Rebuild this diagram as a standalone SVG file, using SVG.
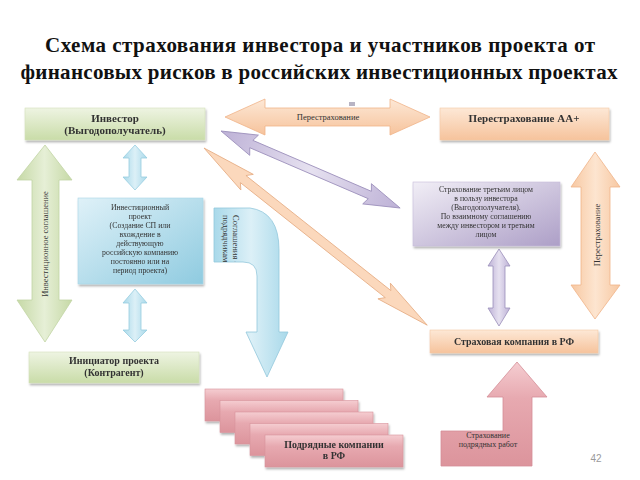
<svg xmlns="http://www.w3.org/2000/svg" width="640" height="480" viewBox="0 0 640 480">
<defs>
<linearGradient id="gGreen" x1="0" y1="0" x2="0" y2="1"><stop offset="0" stop-color="#eef4e2"/><stop offset="1" stop-color="#c9dca8"/></linearGradient>
<linearGradient id="gGreenH" x1="0" y1="0" x2="1" y2="0"><stop offset="0" stop-color="#c6d9a6"/><stop offset="0.5" stop-color="#e6efd6"/><stop offset="1" stop-color="#c6d9a6"/></linearGradient>
<linearGradient id="gOrange" x1="0" y1="0" x2="0" y2="1"><stop offset="0" stop-color="#fde8d6"/><stop offset="1" stop-color="#f6c39c"/></linearGradient>
<linearGradient id="gOrangeH" x1="0" y1="0" x2="1" y2="0"><stop offset="0" stop-color="#f7c8a2"/><stop offset="0.5" stop-color="#fde5d0"/><stop offset="1" stop-color="#f7c8a2"/></linearGradient>
<linearGradient id="gBlue" x1="0" y1="0" x2="1" y2="1"><stop offset="0" stop-color="#dff1f8"/><stop offset="1" stop-color="#8fcbe0"/></linearGradient>
<linearGradient id="gBlueH" x1="0" y1="0" x2="1" y2="0"><stop offset="0" stop-color="#a9d9ea"/><stop offset="0.5" stop-color="#dcf0f7"/><stop offset="1" stop-color="#a9d9ea"/></linearGradient>
<linearGradient id="gPurple" x1="0" y1="0" x2="1" y2="1"><stop offset="0" stop-color="#f1eef6"/><stop offset="1" stop-color="#ad9fc7"/></linearGradient>
<linearGradient id="gPurpleH" x1="0" y1="0" x2="1" y2="0"><stop offset="0" stop-color="#bdb1d6"/><stop offset="0.5" stop-color="#e6e1f0"/><stop offset="1" stop-color="#bdb1d6"/></linearGradient>
<linearGradient id="gPink" x1="0" y1="0" x2="0" y2="1"><stop offset="0" stop-color="#f5cdd1"/><stop offset="0.35" stop-color="#e7a9b0"/><stop offset="1" stop-color="#dc949c"/></linearGradient>
<filter id="sh" x="-10%" y="-10%" width="125%" height="140%"><feDropShadow dx="1" dy="2" stdDeviation="1.2" flood-color="#000" flood-opacity="0.3"/></filter>
<clipPath id="curveClip"><path d="M214,208 L250,208 Q279,212 279,250 L279,332 L288,332 L267,377 L246,332 L257,332 L257,276 Q257,262 243,262 L214,262 Z"/></clipPath>
</defs>
<style>
text{font-family:"Liberation Serif","DejaVu Serif",serif;fill:#333;text-anchor:middle}
.title{font-size:21px;font-weight:bold;fill:#111}
.lbl{font-size:11px;font-weight:bold}
.lbl2{font-size:10px;font-weight:bold}
.sm{font-size:8.5px}
.xs{font-size:7.8px}
.box{filter:url(#sh)}
.arr{stroke-width:0.8}
</style>
<rect width="640" height="480" fill="#fff"/>
<text class="title" x="320" y="52" textLength="550" lengthAdjust="spacing">Схема страхования инвестора и участников проекта от</text>
<text class="title" x="319" y="79" textLength="597" lengthAdjust="spacing">финансовых рисков в российских инвестиционных проектах</text>

<g id="connectors">
<g id="arrow-top-reinsurance">
<polygon class="arr" points="225,117 265,99 265,108 390,108 390,99 430,117 390,135 390,126 265,126 265,135" fill="url(#gOrange)" stroke="#f0b489"/>
<rect x="349" y="102" width="6" height="4" fill="#b8b4c4"/>
<text class="sm" x="328" y="120">Перестрахование</text>
</g>
<g id="arrow-diag-purple">
<polygon class="arr" transform="translate(221,131) rotate(23.27)" points="0,0 36,-11 33,-4 162,-4 159,-11 195,0 159,11 162,4 33,4 36,11" fill="url(#gPurpleH)" stroke="#9b8fba"/>
</g>
<g id="arrow-diag-orange">
<polygon class="arr" transform="translate(204,148) rotate(38.44)" points="0,0 55,-10 50,-4.5 235,-4.5 230,-10 285,0 230,10 235,4.5 50,4.5 55,10" fill="#fbd8bc" stroke="#e6ad84"/>
</g>
<g id="arrow-invest-agreement">
<polygon class="arr" points="45,145 72,180 59,180 59,300 72,300 45,342 17,300 32,300 32,180 17,180" fill="url(#gGreenH)" stroke="#c2d4a4"/>
<text class="sm" transform="translate(48,244) rotate(-90)">Инвестиционное соглашение</text>
</g>
<g id="arrow-right-reinsurance">
<polygon class="arr" points="595,152 620,187 610,187 610,285 620,285 595,319 571,285 581,285 581,187 571,187" fill="url(#gOrangeH)" stroke="#f0b489"/>
<text class="sm" transform="translate(600,235) rotate(-90)">Перестрахование</text>
</g>
<g id="arrow-third-party">
<polygon class="arr" points="499,249 510,266 505,266 505,308 510,308 499,326 488,308 493,308 493,266 488,266" fill="url(#gPurpleH)" stroke="#9b8fba"/>
</g>
<g id="arrow-invest-up">
<polygon class="arr" points="135,145 147,158 141,158 141,177 147,177 135,190 123,177 129,177 129,158 123,158" fill="url(#gBlueH)" stroke="#97cde0"/>
</g>
<g id="arrow-invest-down">
<polygon class="arr" points="135,289 147,303 141,303 141,330 147,330 135,342 123,330 129,330 129,303 123,303" fill="url(#gBlueH)" stroke="#97cde0"/>
</g>
<g id="arrow-contractor-agreements">
<path class="arr" d="M214,208 L250,208 Q279,212 279,250 L279,332 L288,332 L267,377 L246,332 L257,332 L257,276 Q257,262 243,262 L214,262 Z" fill="url(#gBlueH)" stroke="#93c8dc"/>
<g clip-path="url(#curveClip)">
<text class="sm" style="text-anchor:start" transform="translate(233,215) rotate(90)">Соглашения с</text>
<text class="sm" style="text-anchor:start" transform="translate(223,215) rotate(90)">подрядчиками</text>
</g>
</g>
<g id="arrow-contract-insurance">
<polygon class="arr" points="517,362 547,397 532,397 532,466 441,466 441,431 503,431 503,397 487,397" fill="url(#gPink)" stroke="#d48e97"/>
<text style="font-size:8px" x="488" y="438">Страхование</text>
<text style="font-size:8px" x="488" y="447">подрядных работ</text>
</g>
</g>

<g id="investor" class="box">
<rect x="25" y="108" width="180" height="32" fill="url(#gGreen)" stroke="#d3e2bb" stroke-width="0.6"/>
<text class="lbl" x="115" y="122">Инвестор</text>
<text class="lbl" x="115" y="134">(Выгодополучатель)</text>
</g>
<g id="reinsurance-aa" class="box">
<rect x="440" y="108" width="169" height="32" fill="url(#gOrange)" stroke="#f4c8a6" stroke-width="0.6"/>
<text class="lbl" x="524" y="122">Перестрахование  АА+</text>
</g>
<g id="investment-project" class="box">
<rect x="78" y="198" width="125" height="86" fill="url(#gBlue)" stroke="#a8d6e6" stroke-width="0.6"/>
<text class="xs" x="140" y="210">Инвестиционный</text>
<text class="xs" x="140" y="219">проект</text>
<text class="xs" x="140" y="228">(Создание СП или</text>
<text class="xs" x="140" y="237">вхождение в</text>
<text class="xs" x="140" y="246">действующую</text>
<text class="xs" x="140" y="255">российскую  компанию</text>
<text class="xs" x="140" y="264">постоянно или  на</text>
<text class="xs" x="140" y="273">период проекта)</text>
</g>
<g id="third-party-insurance" class="box">
<rect x="413" y="182" width="147" height="64" fill="url(#gPurple)" stroke="#c6bcd9" stroke-width="0.6"/>
<text class="xs" x="486" y="192">Страхование  третьим  лицом</text>
<text class="xs" x="486" y="201">в пользу инвестора</text>
<text class="xs" x="486" y="210">(Выгодополучателя).</text>
<text class="xs" x="486" y="219">По взаимному соглашению</text>
<text class="xs" x="486" y="228">между инвестором  и третьим</text>
<text class="xs" x="486" y="237">лицом</text>
</g>
<g id="insurance-company" class="box">
<rect x="430" y="330" width="168" height="23" fill="url(#gOrange)" stroke="#f4c8a6" stroke-width="0.6"/>
<text class="lbl2" x="514" y="345">Страховая компания в РФ</text>
</g>
<g id="initiator" class="box">
<rect x="29" y="352" width="170" height="31" fill="url(#gGreen)" stroke="#d3e2bb" stroke-width="0.6"/>
<text class="lbl2" x="114" y="364">Инициатор проекта</text>
<text class="lbl2" x="114" y="376">(Контрагент)</text>
</g>
<g id="contractors" class="box">
<rect x="205" y="389" width="138" height="32" fill="url(#gPink)" stroke="#d8939b" stroke-width="0.6"/>
<rect x="220" y="400.5" width="138" height="32" fill="url(#gPink)" stroke="#d8939b" stroke-width="0.6"/>
<rect x="235" y="412" width="138" height="32" fill="url(#gPink)" stroke="#d8939b" stroke-width="0.6"/>
<rect x="250" y="423.5" width="138" height="32" fill="url(#gPink)" stroke="#d8939b" stroke-width="0.6"/>
<rect x="265" y="435" width="138" height="32" fill="url(#gPink)" stroke="#d8939b" stroke-width="0.6"/>
<text class="lbl2" x="334" y="448">Подрядные компании</text>
<text class="lbl2" x="334" y="459">в РФ</text>
</g>
<text x="596" y="462" style="font-family:'Liberation Sans',sans-serif;font-size:10px;fill:#9a9a9a">42</text>
</svg>
